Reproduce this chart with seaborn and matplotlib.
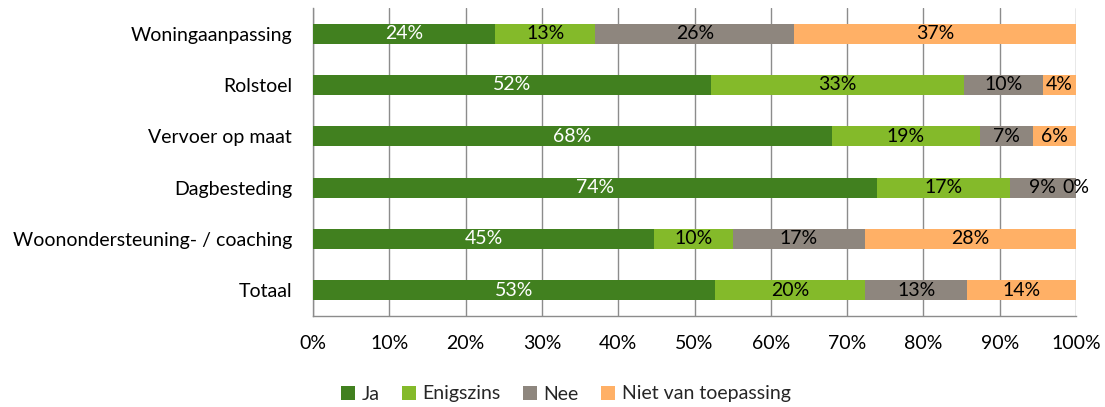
import numpy as np
import pandas as pd
import matplotlib
matplotlib.use("Agg")
import matplotlib.pyplot as plt
import seaborn as sns
from matplotlib.patches import Patch
from matplotlib.ticker import MultipleLocator, PercentFormatter

categories = ["Woningaanpassing", "Rolstoel", "Vervoer op maat", "Dagbesteding",
              "Woonondersteuning- / coaching", "Totaal"]
series = ["Ja", "Enigszins", "Nee", "Niet van toepassing"]
ja = [23.9, 52.1, 68.0, 73.9, 44.7, 52.7]
enigszins = [13.1, 33.2, 19.4, 17.4, 10.4, 19.7]
nee = [26.1, 10.4, 7.0, 8.7, 17.2, 13.3]
niet = [36.9, 4.3, 5.6, 0.0, 27.7, 14.3]
colors = ["#41801F", "#84BA2A", "#8E867E", "#FFB066"]
text_colors = ["white", "black", "black", "black"]

sns.set_style("white")
plt.rcParams["font.family"] = ["Lato", "DejaVu Sans"]
FS = 14

df = pd.DataFrame({"cat": categories, "Ja": ja, "Enigszins": enigszins,
                   "Nee": nee, "Niet van toepassing": niet})
vals = df[series].to_numpy()
cum = np.cumsum(vals, axis=1)

fig = plt.figure(figsize=(11.05, 4.07), dpi=100)
ax = fig.add_axes([313/1105, 1-316/407, (1076-313)/1105, (316-8)/407])

for i in range(len(series) - 1, -1, -1):
    d = pd.DataFrame({"cat": categories, "v": cum[:, i]})
    sns.barplot(data=d, x="v", y="cat", orient="h", color=colors[i],
                width=0.39, saturation=1, ax=ax, linewidth=0, zorder=3)

for r in range(len(categories)):
    for i in range(len(series)):
        start = cum[r, i] - vals[r, i]
        xc = start + vals[r, i] / 2
        ax.text(xc, r, f"{vals[r, i]:.0f}%", ha="center", va="center",
                color=text_colors[i], fontsize=FS, zorder=5, clip_on=False)

ax.set_xlim(0, 100)
ax.set_ylim(len(categories) - 0.5, -0.5)
ax.xaxis.set_major_locator(MultipleLocator(10))
ax.xaxis.set_major_formatter(PercentFormatter(decimals=0))
ax.grid(axis="x", color="#8C8C8C", linewidth=1, zorder=0)
ax.set_axisbelow(True)
ax.set_xlabel("")
ax.set_ylabel("")
for s in ["top", "right"]:
    ax.spines[s].set_visible(False)
for s in ["left", "bottom"]:
    ax.spines[s].set_color("#8C8C8C")
    ax.spines[s].set_linewidth(1)
ax.tick_params(axis="x", length=5, color="#8C8C8C", labelsize=FS, pad=9, labelcolor="black")
ax.tick_params(axis="y", which="major", length=0, labelsize=FS, pad=15, labelcolor="black")
ax.set_yticks(np.arange(-0.5, len(categories), 1), minor=True)
ax.tick_params(axis="y", which="minor", length=5, color="#8C8C8C")

handles = [Patch(facecolor=c, edgecolor="none") for c in colors]
fig.legend(handles, series, loc="center", bbox_to_anchor=(566/1105, 1-394/407), ncol=4,
           frameon=False, fontsize=FS, handlelength=0.7, handleheight=0.7,
           handletextpad=0.35, columnspacing=1.15)

fig.savefig("out.png", dpi=100)
